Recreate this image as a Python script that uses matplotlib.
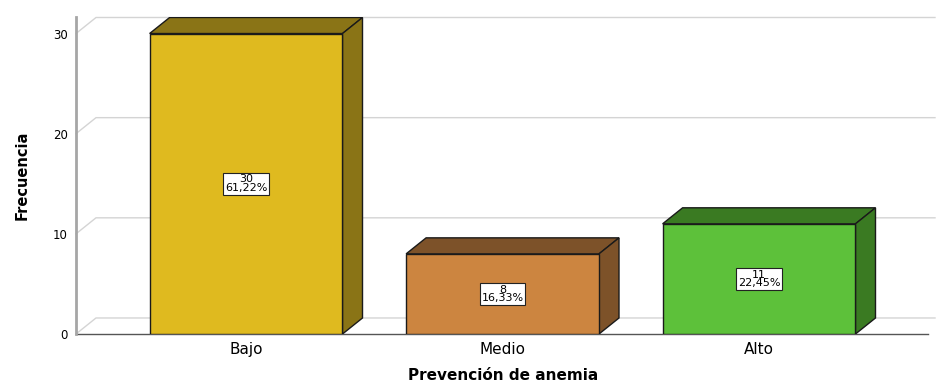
import numpy as np
import matplotlib
matplotlib.use("Agg")
import matplotlib.pyplot as plt
from matplotlib.patches import Polygon

# frequency table: Prevención de anemia
categorias = ["Bajo", "Medio", "Alto"]
frecuencias = [30, 8, 11]
color_frente = ["#DFBA1F", "#CC8540", "#5DC13A"]
color_lado = ["#8A7416", "#7D5229", "#3A7A22"]
ticks_y = [0, 10, 20, 30]

total = sum(frecuencias)
porcentajes = [f / total * 100 for f in frecuencias]

fig = plt.figure(figsize=(9.37, 3.83), dpi=100)
ax = fig.add_axes([76 / 937, 49 / 383, 859 / 937, 317 / 383])

x = np.arange(len(categorias))
ancho = 0.752
dx, dy = 0.078, 1.6   # depth offset of the 3D boxes
xmin, xmax = -0.663, 2.686
ax.set_xlim(xmin, xmax)
ax.set_ylim(0, 31.65)

# back wall grid with the floor diagonal
for t in ticks_y:
    ax.plot([xmin, xmin + dx, xmax], [t, t + dy, t + dy],
            color="#D4D4D4", lw=1, zorder=1, clip_on=False)
ax.plot([xmin, 2.66], [0, 0], color="#555555", lw=1, zorder=2, clip_on=False)

bars = ax.bar(x, frecuencias, width=ancho, color=color_frente,
              edgecolor="#1A1A1A", linewidth=1, zorder=4)

for xi, v, c_lado in zip(x, frecuencias, color_lado):
    l, r = xi - ancho / 2, xi + ancho / 2
    top = Polygon([[l, v], [l + dx, v + dy], [r + dx, v + dy], [r, v]],
                  closed=True, facecolor=c_lado, edgecolor="#1A1A1A", lw=1, zorder=3)
    side = Polygon([[r, 0], [r + dx, dy], [r + dx, v + dy], [r, v]],
                   closed=True, facecolor=c_lado, edgecolor="#1A1A1A", lw=1, zorder=3)
    ax.add_patch(top)
    ax.add_patch(side)

for xi, v, p in zip(x, frecuencias, porcentajes):
    txt = f"{v}\n{p:.2f}%".replace(".", ",")
    ax.text(xi, v / 2, txt, ha="center", va="center", fontsize=8,
            linespacing=0.85, zorder=6,
            bbox=dict(boxstyle="square,pad=0.15", facecolor="white",
                      edgecolor="#222222", lw=0.8))

for s in ["top", "right", "bottom"]:
    ax.spines[s].set_visible(False)
ax.spines["left"].set_color("#A6A6A6")
ax.spines["left"].set_linewidth(2)
ax.spines["left"].set_bounds(0, 31.65)

ax.set_yticks(ticks_y)
ax.set_yticklabels([str(t) for t in ticks_y], fontsize=8.5)
ax.set_xticks(x)
ax.set_xticklabels(categorias, fontsize=11)
ax.tick_params(axis="y", length=0, pad=6)
ax.tick_params(axis="x", length=0, pad=6)

ax.set_xlabel("Prevención de anemia", fontsize=11, fontweight="bold", va="center")
ax.xaxis.set_label_coords(427 / 859, -42 / 317)
ax.set_ylabel("Frecuencia", fontsize=10.5, fontweight="bold", va="center")
ax.yaxis.set_label_coords(-54 / 859, 0.5)

fig.savefig("out.png", dpi=100)
